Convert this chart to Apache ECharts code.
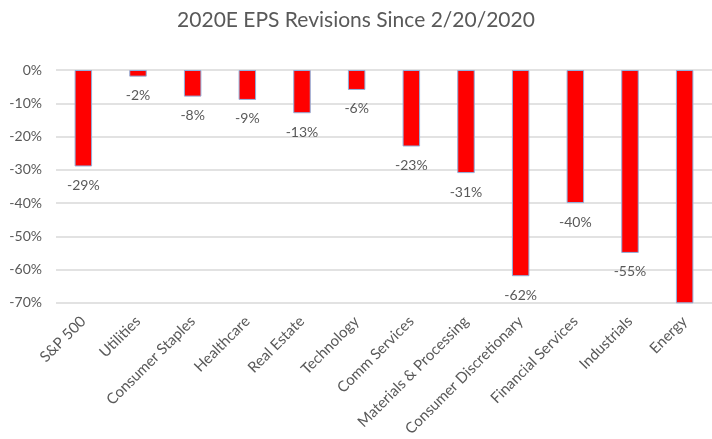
<!DOCTYPE html>
<html>
<head>
<meta charset="utf-8">
<script src="https://cdn.jsdelivr.net/npm/echarts@6/dist/echarts.min.js"></script>
<style>
  html, body { margin: 0; padding: 0; background: #fff; }
  #chart { width: 712px; height: 439px; }
</style>
</head>
<body>
<div id="chart"></div>
<script>
// Sectors on the category axis
const sectors = [
  'S&P 500', 'Utilities', 'Consumer Staples', 'Healthcare', 'Real Estate',
  'Technology', 'Comm Services', 'Materials & Processing',
  'Consumer Discretionary', 'Financial Services', 'Industrials', 'Energy'
];
// 2020E EPS revision since 2/20/2020, in percent
const revisions = [-29, -2, -8, -9, -13, -6, -23, -31, -62, -40, -55, -75];
// Value axis range and step, in percent
const axisMin = -70;
const axisMax = 0;
const axisStep = 10;

const textColor = '#595959';
const font = 'Lato, "Open Sans", sans-serif';

const chart = echarts.init(document.getElementById('chart'));

chart.setOption({
  backgroundColor: '#ffffff',
  animation: false,
  title: {
    text: '2020E EPS Revisions Since 2/20/2020',
    left: 'center',
    top: 5,
    textStyle: { color: textColor, fontSize: 21, fontWeight: 'normal', fontFamily: font }
  },
  grid: { left: 56, right: -9, top: 70, bottom: 132, containLabel: false },
  xAxis: {
    type: 'category',
    data: sectors,
    position: 'bottom',
    axisLine: { show: false, onZero: false },
    axisTick: { show: false },
    axisLabel: {
      interval: 0,
      rotate: 45,
      margin: 16,
      color: textColor,
      fontSize: 15,
      fontFamily: font
    }
  },
  yAxis: {
    type: 'value',
    min: axisMin,
    max: axisMax,
    interval: axisStep,
    axisLine: { show: false },
    axisTick: { show: false },
    splitLine: { lineStyle: { color: '#d9d9d9', width: 1.5 } },
    axisLabel: {
      color: textColor,
      fontSize: 14,
      fontFamily: font,
      margin: 14,
      formatter: v => v + '%'
    }
  },
  series: [{
    type: 'bar',
    clip: true,
    barWidth: '32%',
    data: revisions.map(v => ({
      value: v,
      label: { show: v >= axisMin }
    })),
    itemStyle: { color: '#ff0000', borderColor: '#8fb0dc', borderWidth: 1 },
    label: {
      show: true,
      position: 'bottom',
      distance: 12,
      color: textColor,
      fontSize: 14,
      fontFamily: font,
      formatter: p => p.value + '%'
    }
  }]
});
</script>
</body>
</html>
